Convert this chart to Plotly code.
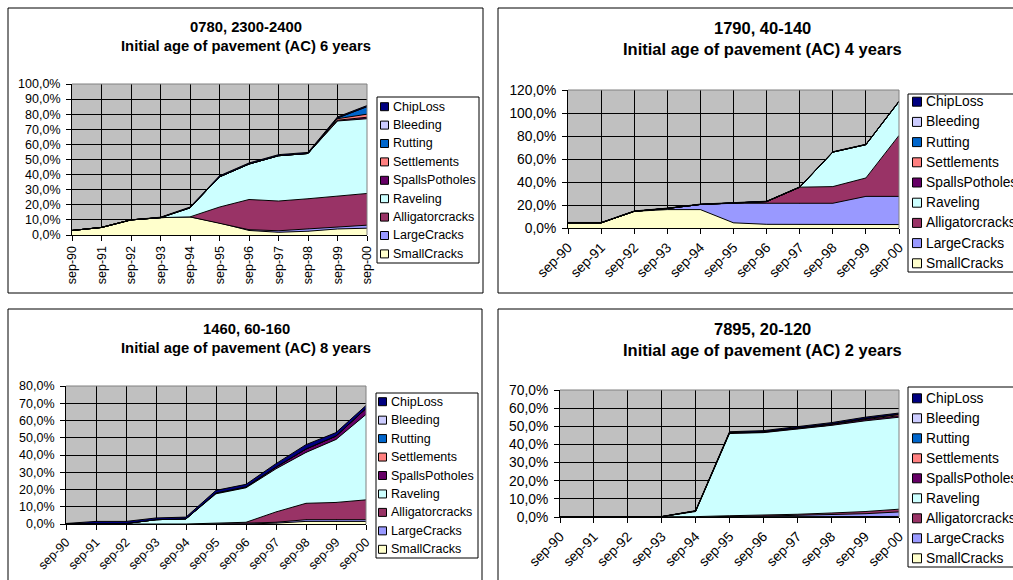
import plotly.graph_objects as go

W, H = 1013, 580

months = ["sep-90", "sep-91", "sep-92", "sep-93", "sep-94", "sep-95",
          "sep-96", "sep-97", "sep-98", "sep-99", "sep-00"]

series_names = ["SmallCracks", "LargeCracks", "Alligatorcracks", "Raveling",
                "SpallsPotholes", "Settlements", "Rutting", "Bleeding", "ChipLoss"]
series_colors = ["#FFFFCC", "#9999FF", "#993366", "#CCFFFF",
                 "#660066", "#FF8080", "#0066CC", "#CCCCFF", "#000080"]

# ---- Panel 1: 0780, 2300-2400 (values in %) ----
p1_small = [3, 5, 10, 11.5, 12, 8, 3, 1.8, 2.5, 4, 4.5]
p1_large = [0, 0, 0, 0, 0, 0, 0.5, 1, 1.5, 1.5, 2]
p1_alli = [0, 0, 0, 0, 0, 10.5, 20, 19.7, 20, 20.5, 21]
p1_rav = [0, 0, 0, 0, 6, 20, 23.5, 30, 30, 49.5, 49.5]
p1_spalls = [0, 0, 0, 0, 0, 0, 0, 0, 0, 0.5, 1]
p1_settl = [0, 0, 0, 0, 0, 0, 0, 0, 0, 1, 2]
p1_rut = [0, 0, 0, 0, 0, 0, 0, 0, 0, 0.5, 5]
p1_bleed = [0, 0, 0, 0, 0, 0, 0, 0, 0, 0, 0]
p1_chip = [0, 0, 0, 0.3, 0.5, 0.7, 0.7, 0.7, 0.7, 0.7, 0.7]

# ---- Panel 2: 1790, 40-140 ----
p2_small = [4.5, 4.5, 14.5, 16, 16, 4.5, 3.2, 3, 3, 3, 3]
p2_large = [0, 0, 0, 1, 4.5, 17, 18.3, 18.5, 18.5, 24.5, 24.5]
p2_alli = [0, 0, 0, 0, 0, 0, 1.5, 14, 14.5, 16, 53]
p2_rav = [0, 0, 0, 0, 0, 0, 0, 0, 30, 29, 29.5]
p2_spalls = [0, 0, 0, 0, 0, 0, 0, 0, 0, 0, 0]
p2_settl = [0, 0, 0, 0, 0, 0, 0, 0, 0, 0, 0]
p2_rut = [0, 0, 0, 0, 0, 0, 0, 0, 0, 0, 0]
p2_bleed = [0, 0, 0, 0, 0, 0, 0, 0, 0, 0, 0]
p2_chip = [0.3, 0.3, 0.3, 0.3, 0.3, 0.3, 0.3, 0.3, 0.3, 0.3, 0.3]

# ---- Panel 3: 1460, 60-160 ----
p3_small = [0, 0, 0, 0, 0, 0, 0, 0.5, 1.5, 1.5, 1.5]
p3_large = [0, 0, 0, 0, 0, 0.5, 0.5, 0.5, 1, 1, 1]
p3_alli = [0, 0, 0, 0, 0, 0, 0.5, 6, 9.5, 10, 11.5]
p3_rav = [0.2, 0.3, 0.3, 2.5, 3, 17, 20, 25, 29.5, 36.5, 49.5]
p3_spalls = [0, 0, 0, 0, 0, 0.5, 0.5, 1, 2, 2, 3.5]
p3_settl = [0, 0, 0, 0, 0, 0, 0, 0, 0, 0, 0]
p3_rut = [0, 0, 0, 0, 0, 0, 0, 0, 0, 0, 0]
p3_bleed = [0, 0, 0, 0, 0, 0, 0, 0, 0, 0, 0]
p3_chip = [0.1, 1.2, 1.2, 1, 1, 1.5, 1.5, 2, 2.5, 2, 1.7]

# ---- Panel 4: 7895, 20-120 ----
p4_small = [0, 0, 0, 0, 0, 0, 0, 0, 0, 0, 0.3]
p4_large = [0, 0, 0, 0, 0, 0.3, 0.5, 0.8, 1.2, 1.8, 2.5]
p4_alli = [0, 0, 0, 0, 0.2, 0.4, 0.5, 0.7, 1, 1.2, 1.5]
p4_rav = [0, 0, 0, 0.2, 2.8, 45.3, 45.5, 47, 48.3, 50, 50.7]
p4_spalls = [0, 0, 0, 0, 0.3, 0.5, 0.5, 0.5, 0.5, 0.7, 0.8]
p4_settl = [0, 0, 0, 0, 0, 0, 0, 0, 0.3, 0.5, 0.8]
p4_rut = [0, 0, 0, 0, 0, 0, 0, 0, 0, 0, 0]
p4_bleed = [0, 0, 0, 0, 0, 0, 0, 0, 0, 0, 0]
p4_chip = [0, 0, 0, 0.1, 0.2, 0.5, 0.6, 0.7, 0.7, 0.8, 0.7]

titles1 = ["0780, 2300-2400", "1790, 40-140", "1460, 60-160", "7895, 20-120"]
titles2 = ["Initial age of pavement (AC) 6 years", "Initial age of pavement (AC) 4 years",
           "Initial age of pavement (AC) 8 years", "Initial age of pavement (AC) 2 years"]
y_max = [1.0, 1.2, 0.8, 0.7]
y_step = [0.1, 0.2, 0.1, 0.1]

panel_data = [
    [p1_small, p1_large, p1_alli, p1_rav, p1_spalls, p1_settl, p1_rut, p1_bleed, p1_chip],
    [p2_small, p2_large, p2_alli, p2_rav, p2_spalls, p2_settl, p2_rut, p2_bleed, p2_chip],
    [p3_small, p3_large, p3_alli, p3_rav, p3_spalls, p3_settl, p3_rut, p3_bleed, p3_chip],
    [p4_small, p4_large, p4_alli, p4_rav, p4_spalls, p4_settl, p4_rut, p4_bleed, p4_chip],
]

# layout (pixel) settings per panel
layouts = [
    dict(plot=(72, 84, 367, 235), border=(8, 8, 483, 293), tick_angle=-90, fs=12.5, tfs=14.8,
         t1=(246, 27), t2=(246, 46), leg_box=(377, 97, 479, 263), leg_y0=106.7, leg_dy=18.4,
         sq_x=380.5, sq=8, txt_x=391),
    dict(plot=(568, 90, 899, 228), border=(498, 8, 1030, 293), tick_angle=-45, fs=13.8, tfs=16.5,
         t1=(762, 28.5), t2=(762, 49.5), leg_box=(908, 94, 1030, 272), leg_y0=101.7, leg_dy=20.2,
         sq_x=912.5, sq=9, txt_x=924),
    dict(plot=(66, 386, 366, 524), border=(8, 309, 482, 600), tick_angle=-45, fs=12.5, tfs=14.8,
         t1=(246, 328.5), t2=(246, 347.5), leg_box=(376, 393, 478, 558), leg_y0=401.7, leg_dy=18.45,
         sq_x=378.5, sq=8, txt_x=389),
    dict(plot=(560, 390, 899, 517), border=(498, 309, 1030, 600), tick_angle=-45, fs=13.8, tfs=16.5,
         t1=(762, 328.5), t2=(762, 349.5), leg_box=(908, 387, 1030, 567), leg_y0=398.3, leg_dy=20,
         sq_x=912.5, sq=9, txt_x=924),
]

FONT = "Liberation Sans, Arial, sans-serif"


def px(x):
    return x / W


def py(y):
    return 1 - y / H


fig = go.Figure()
shapes = []
annotations = []

for i, (vals, L) in enumerate(zip(panel_data, layouts)):
    sfx = "" if i == 0 else str(i + 1)
    xa, ya = "x" + sfx, "y" + sfx
    for name, col, v in zip(series_names, series_colors, vals):
        fig.add_trace(go.Scatter(
            x=months, y=[a / 100 for a in v], name=name, xaxis=xa, yaxis=ya,
            mode="lines", stackgroup="g" + str(i), fillcolor=col,
            line=dict(color="black", width=1), showlegend=False, hoverinfo="skip"))

    x0, y0, x1, y1 = L["plot"]
    fig.layout["xaxis" + sfx] = dict(
        domain=[px(x0), px(x1)], anchor=ya, type="category", range=[0, 10],
        automargin=False,
        showgrid=True, gridcolor="black", gridwidth=1,
        showline=True, linecolor="black", linewidth=1,
        ticks="outside", ticklen=5, tickcolor="black", tickangle=L["tick_angle"],
        tickfont=dict(family=FONT, size=L["fs"], color="black"), fixedrange=True)
    fig.layout["yaxis" + sfx] = dict(
        domain=[py(y1), py(y0)], anchor=xa, range=[0, y_max[i]], dtick=y_step[i],
        automargin=False,
        tick0=0, tickformat=".1%", showgrid=True, gridcolor="black", gridwidth=1,
        zeroline=False, showline=True, linecolor="black", linewidth=1,
        ticks="outside", ticklen=5, tickcolor="black", ticklabelstandoff=3,
        tickfont=dict(family=FONT, size=L["fs"], color="black"), fixedrange=True)

    # plot-area border (gray top / right)
    shapes.append(dict(type="line", xref="paper", yref="paper", x0=px(x0), x1=px(x1),
                       y0=py(y0), y1=py(y0), line=dict(color="#808080", width=1)))
    shapes.append(dict(type="line", xref="paper", yref="paper", x0=px(x1), x1=px(x1),
                       y0=py(y0), y1=py(y1), line=dict(color="#808080", width=1)))

    # panel border
    bx0, by0, bx1, by1 = L["border"]
    shapes.append(dict(type="rect", xref="paper", yref="paper", x0=px(bx0), x1=px(bx1),
                       y0=py(by1), y1=py(by0), line=dict(color="black", width=1)))

    # titles
    annotations.append(dict(xref="paper", yref="paper", x=px(L["t1"][0]), y=py(L["t1"][1]),
                            text="<b>" + titles1[i] + "</b>", showarrow=False,
                            xanchor="center", yanchor="middle",
                            font=dict(family=FONT, size=L["tfs"], color="black")))
    annotations.append(dict(xref="paper", yref="paper", x=px(L["t2"][0]), y=py(L["t2"][1]),
                            text="<b>" + titles2[i] + "</b>", showarrow=False,
                            xanchor="center", yanchor="middle",
                            font=dict(family=FONT, size=L["tfs"], color="black")))

    # legend box
    lx0, ly0, lx1, ly1 = L["leg_box"]
    shapes.append(dict(type="rect", xref="paper", yref="paper", x0=px(lx0), x1=px(lx1),
                       y0=py(ly1), y1=py(ly0), line=dict(color="black", width=1),
                       fillcolor="white"))
    for k, (name, col) in enumerate(zip(series_names[::-1], series_colors[::-1])):
        cy = L["leg_y0"] + k * L["leg_dy"]
        s = L["sq"]
        shapes.append(dict(type="rect", xref="paper", yref="paper",
                           x0=px(L["sq_x"]), x1=px(L["sq_x"] + s),
                           y0=py(cy + s / 2), y1=py(cy - s / 2),
                           line=dict(color="black", width=1), fillcolor=col))
        annotations.append(dict(xref="paper", yref="paper", x=px(L["txt_x"]), y=py(cy),
                                text=name, showarrow=False, xanchor="left", yanchor="middle",
                                font=dict(family=FONT, size=L["fs"], color="black")))

fig.update_layout(
    width=W, height=H, margin=dict(l=0, r=0, t=0, b=0, autoexpand=False),
    paper_bgcolor="white", plot_bgcolor="#C0C0C0", separators=",.",
    showlegend=False, shapes=shapes, annotations=annotations,
    font=dict(family=FONT, color="black"))

fig.write_html("out.html",
               config={"displayModeBar": False, "staticPlot": True},
               post_script="document.body.style.margin='0px';"
                           "document.body.style.overflow='hidden';")
